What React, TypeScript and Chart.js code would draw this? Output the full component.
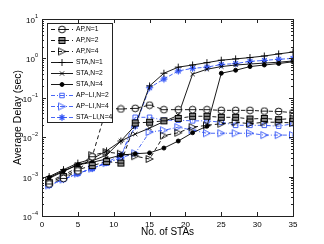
import React, { useEffect, useRef } from "react";
import { Chart, registerables } from "chart.js";
import { drawPoint } from "chart.js/helpers";

Chart.register(...registerables);

const XS = [1, 3, 5, 7, 9, 11, 13, 15, 17, 19, 21, 23, 25, 27, 29, 31, 33, 35];

const AP_N1 = [6.5e-4, 9e-4, 1.4e-3, 3.2e-3, 0.055, 0.052, 0.054, 0.065, 0.05, 0.05, 0.05, 0.05, 0.048, 0.048, 0.048, 0.046, 0.045, 0.042];
const AP_N2 = [7e-4, 1e-3, 1.5e-3, 1.9e-3, 2.4e-3, 2.2e-3, 0.023, 0.024, 0.026, 0.03, 0.034, 0.034, 0.032, 0.032, 0.029, 0.03, 0.028, 0.03];
const AP_N4 = [7.5e-4, 1.1e-3, 1.7e-3, 3.5e-3, 4.2e-3, 3.8e-3, 3.3e-3, 2.8e-3, 0.011, 0.013, 0.018, 0.02, 0.022, 0.024, 0.022, 0.024, 0.024, 0.023];
const STA_N1 = [1.0e-3, 1.5e-3, 2.2e-3, 2.8e-3, 4.5e-3, 8e-3, 0.02, 0.2, 0.42, 0.6, 0.68, 0.78, 0.9, 0.97, 1.05, 1.15, 1.3, 1.45];
const STA_N2 = [9e-4, 1.35e-3, 2.0e-3, 2.5e-3, 3.5e-3, 8e-3, 0.012, 0.017, 0.025, 0.036, 0.4, 0.53, 0.62, 0.68, 0.72, 0.76, 0.8, 0.86];
const STA_N4 = [9.5e-4, 1.4e-3, 2.0e-3, 2.3e-3, 2.8e-3, 3.5e-3, 3.8e-3, 4e-3, 5.3e-3, 8e-3, 0.013, 0.019, 0.42, 0.5, 0.62, 0.68, 0.74, 0.82];
const APLI_N2 = [6e-4, 8.5e-4, 1.2e-3, 1.6e-3, 2.2e-3, 3e-3, 0.032, 0.032, 0.027, 0.027, 0.026, 0.026, 0.024, 0.02, 0.02, 0.02, 0.019, 0.022];
const APLI_N4 = [6e-4, 8.5e-4, 1.2e-3, 1.6e-3, 2.2e-3, 3e-3, 3.9e-3, 0.0135, 0.015, 0.018, 0.015, 0.0126, 0.0126, 0.0126, 0.0126, 0.0113, 0.0113, 0.0113];
const STALI_N4 = [6e-4, 8.5e-4, 1.2e-3, 1.6e-3, 2.3e-3, 3.5e-3, 0.019, 0.18, 0.3, 0.48, 0.56, 0.6, 0.7, 0.74, 0.84, 0.89, 0.95, 1.0];

const X_TICKS = [0, 5, 10, 15, 20, 25, 30, 35];
const Y_EXPONENTS = [-4, -3, -2, -1, 0, 1];

const BLACK = "#000000";
const BLUE = "#3355f5";
const FONT = "'Liberation Sans', Arial, Helvetica, sans-serif";

function makeMarker(size: number, draw: (g: CanvasRenderingContext2D, s: number) => void) {
  const c = document.createElement("canvas");
  c.width = size;
  c.height = size;
  const g = c.getContext("2d")!;
  draw(g, size);
  return c;
}

function circleBar(color: string) {
  return makeMarker(9, (g, s) => {
    g.strokeStyle = color;
    g.lineWidth = 0.9;
    g.fillStyle = "#ffffff";
    g.beginPath();
    g.arc(s / 2, s / 2, 3.4, 0, Math.PI * 2);
    g.fill();
    g.stroke();
    g.beginPath();
    g.moveTo(1, s / 2);
    g.lineTo(s - 1, s / 2);
    g.stroke();
  });
}

function squareBar(color: string) {
  return makeMarker(9, (g, s) => {
    g.fillStyle = "#8a8a8a";
    g.fillRect(1.5, 1.5, 6, 6);
    g.strokeStyle = color;
    g.lineWidth = 1;
    g.strokeRect(1.5, 1.5, 6, 6);
    g.beginPath();
    g.moveTo(1.5, 4.5);
    g.lineTo(7.5, 4.5);
    g.stroke();
  });
}

function triRight(color: string) {
  return makeMarker(10, (g, s) => {
    g.strokeStyle = color;
    g.lineWidth = 0.9;
    g.beginPath();
    g.moveTo(1.5, 1.5);
    g.lineTo(8.5, 5);
    g.lineTo(1.5, 8.5);
    g.closePath();
    g.stroke();
  });
}

function starDot(color: string) {
  return makeMarker(9, (g, s) => {
    g.strokeStyle = color;
    g.fillStyle = color;
    g.lineWidth = 1;
    const c = s / 2;
    for (let k = 0; k < 4; k++) {
      const a = (k * Math.PI) / 4;
      g.beginPath();
      g.moveTo(c - Math.cos(a) * 3.6, c - Math.sin(a) * 3.6);
      g.lineTo(c + Math.cos(a) * 3.6, c + Math.sin(a) * 3.6);
      g.stroke();
    }
    g.beginPath();
    g.arc(c, c, 2.3, 0, Math.PI * 2);
    g.fill();
  });
}

function toPts(arr: number[]) {
  return XS.map((x, i) => ({ x, y: arr[i] }));
}

const framePlugin = {
  id: "matlabFrame",
  afterDraw(chart: any) {
    const { ctx, chartArea, scales } = chart;
    const { left, right, top, bottom } = chartArea;
    const xs = scales.x;
    const ys = scales.y;
    ctx.save();
    ctx.strokeStyle = "#222";
    ctx.lineWidth = 1;
    ctx.strokeRect(Math.round(left) + 0.5, Math.round(top) + 0.5, Math.round(right - left), Math.round(bottom - top));
    ctx.beginPath();
    for (const v of X_TICKS) {
      const px = Math.round(xs.getPixelForValue(v)) + 0.5;
      ctx.moveTo(px, bottom);
      ctx.lineTo(px, bottom - 4);
      ctx.moveTo(px, top);
      ctx.lineTo(px, top + 4);
    }
    for (const e of Y_EXPONENTS) {
      const py = Math.round(ys.getPixelForValue(Math.pow(10, e))) + 0.5;
      ctx.moveTo(left, py);
      ctx.lineTo(left + 4, py);
      ctx.moveTo(right, py);
      ctx.lineTo(right - 4, py);
      if (e < 1) {
        for (let j = 2; j <= 9; j++) {
          const pm = Math.round(ys.getPixelForValue(j * Math.pow(10, e))) + 0.5;
          ctx.moveTo(left, pm);
          ctx.lineTo(left + 2, pm);
          ctx.moveTo(right, pm);
          ctx.lineTo(right - 2, pm);
        }
      }
    }
    ctx.stroke();

    // y tick labels 10^n
    ctx.fillStyle = "#000";
    ctx.textBaseline = "alphabetic";
    for (const e of Y_EXPONENTS) {
      const py = ys.getPixelForValue(Math.pow(10, e));
      const exp = String(e).replace("-", "\u2212");
      ctx.font = `5.5px ${FONT}`;
      const ew = ctx.measureText(exp).width;
      ctx.textAlign = "left";
      const expX = left - 4 - ew;
      ctx.fillText(exp, expX, py - 1);
      ctx.font = `8px ${FONT}`;
      ctx.textAlign = "right";
      ctx.fillText("10", expX, py + 4);
    }

    // legend
    const lx = 47.5, ly = 23.5, lw = 65, lh = 99;
    ctx.fillStyle = "#ffffff";
    ctx.fillRect(lx, ly, lw, lh);
    ctx.strokeStyle = "#222";
    ctx.lineWidth = 1;
    ctx.strokeRect(lx, ly, lw, lh);
    const ds = chart.data.datasets;
    const step = lh / ds.length;
    ds.forEach((d: any, i: number) => {
      const cy = Math.round(ly + step * (i + 0.5)) + 0.5;
      ctx.save();
      ctx.strokeStyle = d.borderColor;
      ctx.lineWidth = d.borderWidth || 1;
      ctx.setLineDash(d.borderDash || []);
      ctx.beginPath();
      ctx.moveTo(51, cy);
      ctx.lineTo(73, cy);
      ctx.stroke();
      ctx.setLineDash([]);
      ctx.strokeStyle = d.pointBorderColor || d.borderColor;
      ctx.fillStyle = d.pointBackgroundColor || d.borderColor;
      drawPoint(ctx, { pointStyle: d.pointStyle, radius: d.pointRadius, borderWidth: 1, rotation: 0 }, 62, cy);
      ctx.restore();
      ctx.fillStyle = "#000";
      ctx.font = `6.7px ${FONT}`;
      ctx.textAlign = "left";
      ctx.textBaseline = "middle";
      ctx.fillText(d.label, 76, cy);
    });
    ctx.restore();
  },
};

export default function App() {
  const ref = useRef<HTMLCanvasElement>(null);
  useEffect(() => {
    const mk = (label: string, arr: number[], color: string, dash: number[], pointStyle: any, radius: number, fill?: string) => ({
      label,
      data: toPts(arr),
      borderColor: color,
      backgroundColor: color,
      borderWidth: 0.9,
      borderDash: dash,
      pointStyle,
      pointRadius: radius,
      pointBorderColor: color,
      pointBackgroundColor: fill || "rgba(0,0,0,0)",
      pointBorderWidth: 0.9,
      tension: 0,
      fill: false,
    });
    const DASH = [4, 3];
    const DASHDOT = [4, 2, 1, 2];
    const chart = new Chart(ref.current!, {
      type: "line",
      data: {
        datasets: [
          mk("AP,N=1", AP_N1, BLACK, DASH, circleBar(BLACK), 4),
          mk("AP,N=2", AP_N2, BLACK, DASH, squareBar(BLACK), 4),
          mk("AP,N=4", AP_N4, BLACK, DASH, triRight(BLACK), 4),
          mk("STA,N=1", STA_N1, BLACK, [], "cross", 3.5),
          mk("STA,N=2", STA_N2, BLACK, [], "crossRot", 3),
          mk("STA,N=4", STA_N4, BLACK, [], "circle", 2, BLACK),
          mk("AP\u2212LI,N=2", APLI_N2, BLUE, DASHDOT, "rect", 3.2),
          mk("AP\u2212LI,N=4", APLI_N4, BLUE, DASHDOT, triRight(BLUE), 4),
          mk("STA\u2212LI,N=4", STALI_N4, BLUE, [4, 2], starDot(BLUE), 4),
        ],
      },
      options: {
        animation: false,
        responsive: false,
        maintainAspectRatio: false,
        devicePixelRatio: 1,
        layout: { padding: { top: 19, right: 31, left: 0, bottom: 0 } },
        plugins: { legend: { display: false }, tooltip: { enabled: false } },
        scales: {
          x: {
            type: "linear",
            min: 0,
            max: 35,
            afterFit: (s: any) => { s.height = 28; },
            grid: { display: false, drawTicks: false },
            border: { display: false },
            ticks: { stepSize: 5, padding: 4, color: "#000", font: { family: FONT, size: 8 }, maxRotation: 0 },
            title: { display: true, text: "No. of STAs", color: "#000", font: { family: FONT, size: 10 }, padding: { top: 0, bottom: 6 } },
          },
          y: {
            type: "logarithmic",
            min: 1e-4,
            max: 10,
            afterFit: (s: any) => { s.width = 42; },
            grid: { display: false, drawTicks: false },
            border: { display: false },
            ticks: { display: false },
            title: { display: true, text: "Average Delay (sec)", color: "#000", font: { family: FONT, size: 10.5 }, padding: { top: 12, bottom: 0 } },
          },
        },
      },
      plugins: [framePlugin],
    });
    return () => chart.destroy();
  }, []);
  return (
    <div style={{ position: "fixed", left: 0, top: 0, width: 324, height: 244, background: "#fff" }}>
      <canvas ref={ref} width={324} height={244} style={{ display: "block", width: 324, height: 244 }} />
    </div>
  );
}
